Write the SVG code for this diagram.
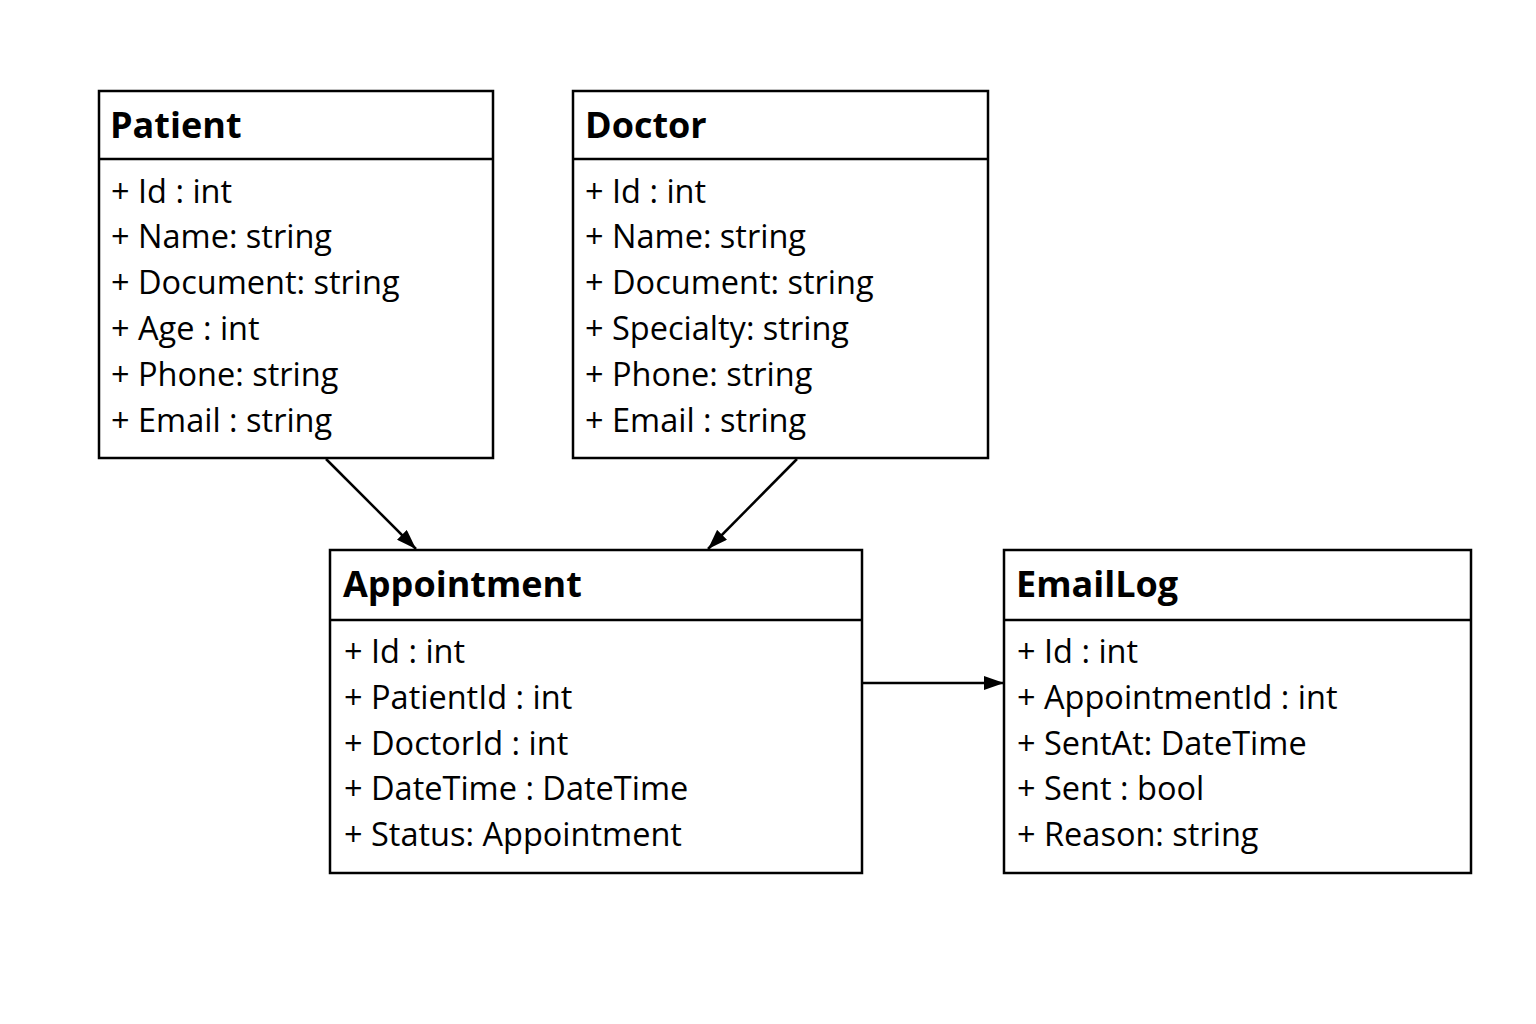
<svg xmlns="http://www.w3.org/2000/svg" width="1536" height="1024" viewBox="0 0 1536 1024">
<defs>
<style>
.box{fill:#fff;stroke:#000;stroke-width:2.5}
.div{stroke:#000;stroke-width:2.5}
.title{font-family:"Open Sans","Noto Sans",sans-serif;font-weight:bold;font-size:36px;fill:#000}
.attr{font-family:"Open Sans","Noto Sans",sans-serif;font-size:32.5px;fill:#000}
.conn{stroke:#000;stroke-width:2.5;fill:none}
</style>
<marker id="ah" viewBox="0 0 20 14" refX="20" refY="7" markerWidth="20" markerHeight="14" markerUnits="userSpaceOnUse" orient="auto">
<path d="M0,0 L20,7 L0,14 z" fill="#000"/>
</marker>
</defs>
<rect width="1536" height="1024" fill="#fff"/>
<g id="connectors">
<line class="conn" x1="326" y1="459" x2="416" y2="549" marker-end="url(#ah)"/>
<line class="conn" x1="797" y1="459" x2="708" y2="549" marker-end="url(#ah)"/>
<line class="conn" x1="862" y1="683" x2="1004" y2="683" marker-end="url(#ah)"/>
</g>
<g id="patient">
<rect class="box" x="99" y="91" width="394" height="367"/>
<line class="div" x1="99" y1="159" x2="493" y2="159"/>
<text class="title" x="110" y="138">Patient</text>
<text class="attr" x="111" y="203">+ Id : int</text>
<text class="attr" x="111" y="248">+ Name: string</text>
<text class="attr" x="111" y="294">+ Document: string</text>
<text class="attr" x="111" y="340">+ Age : int</text>
<text class="attr" x="111" y="386">+ Phone: string</text>
<text class="attr" x="111" y="432">+ Email : string</text>
</g>
<g id="doctor">
<rect class="box" x="573" y="91" width="415" height="367"/>
<line class="div" x1="573" y1="159" x2="988" y2="159"/>
<text class="title" x="585" y="138">Doctor</text>
<text class="attr" x="585" y="203">+ Id : int</text>
<text class="attr" x="585" y="248">+ Name: string</text>
<text class="attr" x="585" y="294">+ Document: string</text>
<text class="attr" x="585" y="340">+ Specialty: string</text>
<text class="attr" x="585" y="386">+ Phone: string</text>
<text class="attr" x="585" y="432">+ Email : string</text>
</g>
<g id="appointment">
<rect class="box" x="330" y="550" width="532" height="323"/>
<line class="div" x1="330" y1="620" x2="862" y2="620"/>
<text class="title" x="343" y="597">Appointment</text>
<text class="attr" x="344" y="663">+ Id : int</text>
<text class="attr" x="344" y="709">+ PatientId : int</text>
<text class="attr" x="344" y="755">+ DoctorId : int</text>
<text class="attr" x="344" y="800">+ DateTime : DateTime</text>
<text class="attr" x="344" y="846">+ Status: Appointment</text>
</g>
<g id="emaillog">
<rect class="box" x="1004" y="550" width="467" height="323"/>
<line class="div" x1="1004" y1="620" x2="1471" y2="620"/>
<text class="title" x="1016" y="597">EmailLog</text>
<text class="attr" x="1017" y="663">+ Id : int</text>
<text class="attr" x="1017" y="709">+ AppointmentId : int</text>
<text class="attr" x="1017" y="755">+ SentAt: DateTime</text>
<text class="attr" x="1017" y="800">+ Sent : bool</text>
<text class="attr" x="1017" y="846">+ Reason: string</text>
</g>
</svg>
